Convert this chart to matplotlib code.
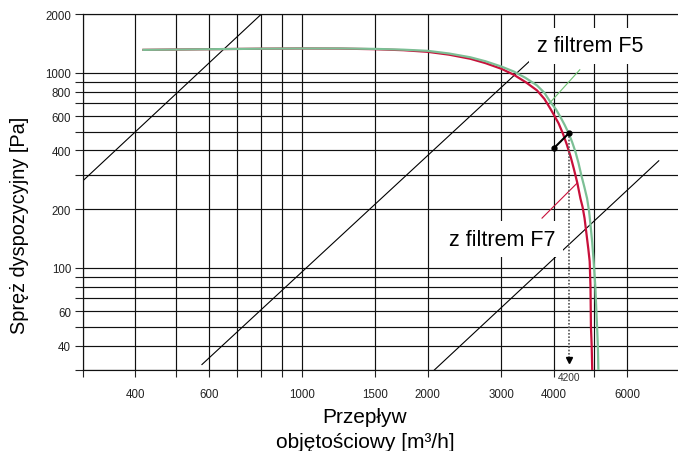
import numpy as np
import matplotlib
matplotlib.use('Agg')
import matplotlib.pyplot as plt
from matplotlib.ticker import FixedLocator, FixedFormatter, NullLocator

plt.rcParams['font.family'] = ['Liberation Sans', 'DejaVu Sans']

# fan curves
f5_q = [419, 600, 800, 1000, 1237, 1500, 1750, 2000, 2250, 2530, 2750, 3000, 3211,
        3430, 3650, 3800, 3927, 4050, 4150, 4250, 4345, 4430, 4508, 4585, 4656,
        4735, 4807, 4860, 4900, 4945, 4984, 5030, 5078, 5100, 5115]
f5_p = [1310, 1320, 1328, 1332, 1332, 1325, 1313, 1295, 1255, 1200, 1145, 1076, 1015,
        940, 861, 790, 709, 650, 594, 540, 489, 440, 394, 345, 299,
        260, 227, 195, 165, 135, 108, 80, 50, 40, 30]

f7_q = [419, 600, 800, 1000, 1237, 1500, 1750, 2000, 2250, 2530, 2750, 3000, 3211,
        3430, 3650, 3800, 3927, 4020, 4111, 4210, 4304, 4390, 4466, 4555, 4634,
        4690, 4740, 4790, 4840, 4876, 4898, 4910, 4930, 4945]
f7_p = [1310, 1320, 1328, 1332, 1330, 1320, 1305, 1280, 1238, 1179, 1120, 1048, 977,
        895, 812, 735, 655, 600, 550, 487, 426, 372, 324, 273, 227,
        205, 180, 150, 125, 108, 80, 50, 40, 30]

# system lines (p ~ q^2), end points
sys1_q = [300, 802]
sys1_p = [279, 2000]
sys2_q = [578, 3616]
sys2_p = [32, 1221]
sys3_q = [2075, 7130]
sys3_p = [30, 354]

# working point segment
op_q = [4015, 4345]
op_p = [413, 489]
op_label = '4200'

# label pointers
f5_ptr_q = [3913, 4618]
f5_ptr_p = [700, 1036]
f7_ptr_q = [3752, 4550]
f7_ptr_p = [180, 272]

x_ticks = [300, 400, 500, 600, 700, 800, 900, 1000, 1500, 2000, 3000, 4000, 5000, 6000]
x_labels = ['', '400', '', '600', '', '', '', '1000', '1500', '2000', '3000', '4000', '', '6000']
y_ticks = [30, 40, 50, 60, 70, 80, 90, 100, 200, 300, 400, 500, 600, 700, 800, 900, 1000, 2000]
y_labels = ['', '40', '', '60', '', '', '', '100', '200', '', '400', '', '600', '', '800', '', '1000', '2000']

green = '#7cbf95'
red = '#c8103a'

fig = plt.figure(figsize=(6.78, 4.52), dpi=100)
ax = fig.add_axes([82.7 / 678, 1 - 371 / 452, 597 / 678, 356 / 452])
ax.set_xscale('log')
ax.set_yscale('log')
ax.set_xlim(300, 8000)
ax.set_ylim(30, 2000)

ax.xaxis.set_major_locator(FixedLocator(x_ticks))
ax.xaxis.set_major_formatter(FixedFormatter(x_labels))
ax.xaxis.set_minor_locator(NullLocator())
ax.yaxis.set_major_locator(FixedLocator(y_ticks))
ax.yaxis.set_major_formatter(FixedFormatter(y_labels))
ax.yaxis.set_minor_locator(NullLocator())
ax.tick_params(axis='x', direction='out', length=5.3, width=0.8, pad=8, labelsize=8.3, colors='#222')
ax.tick_params(axis='y', direction='out', length=6, width=0.8, pad=2.3, labelsize=8.3, colors='#222')
ax.grid(True, color='#111', lw=0.85)
ax.set_axisbelow(True)
for s in ['left', 'top', 'bottom']:
    ax.spines[s].set_color('#111')
    ax.spines[s].set_linewidth(0.85)
ax.spines['right'].set_visible(False)

ax.plot(sys1_q, sys1_p, color='k', lw=0.8, zorder=2)
ax.plot(sys2_q, sys2_p, color='k', lw=0.8, zorder=2)
ax.plot(sys3_q, sys3_p, color='k', lw=0.8, zorder=2)

ax.plot(f5_ptr_q, f5_ptr_p, color='#6cc070', lw=0.8, zorder=2)
ax.plot(f7_ptr_q, f7_ptr_p, color=red, lw=0.8, zorder=2)

ax.plot(f7_q, f7_p, color=red, lw=1.6, zorder=3, solid_joinstyle='round')
ax.plot(f5_q, f5_p, color=green, lw=1.6, zorder=4, solid_joinstyle='round')

# working point and dotted drop line
ax.plot([op_q[1], op_q[1]], [op_p[1], 34], color='#555', lw=1.2, ls=(0, (1, 1)), zorder=5)
ax.plot([op_q[1]], [33.6], marker='v', ms=5, color='k', zorder=5, clip_on=False)
ax.plot(op_q, op_p, color='k', lw=1.5, marker='o', ms=3.5, zorder=6)
ax.text(op_q[1], -0.005, op_label, transform=ax.get_xaxis_transform(), ha='center', va='top',
        fontsize=7.3, color='#333')

box = dict(boxstyle='square,pad=0.35', facecolor='white', edgecolor='none')
ax.text(4887, 1290, 'z filtrem F5', fontsize=15.5, ha='center', va='baseline', bbox=box, zorder=7)
ax.text(3016, 131.5, 'z filtrem F7', fontsize=15.5, ha='center', va='baseline', bbox=box, zorder=7)

fig.text(20 / 678, 1 - 225 / 452, 'Spręż dyspozycyjny [Pa]', rotation=90, fontsize=14.3,
         ha='center', va='center')
fig.text(365 / 678, 1 - 430 / 452, 'Przepływ\nobjętościowy [m³/h]', fontsize=15,
         ha='center', va='center', multialignment='center', linespacing=1.4)

fig.savefig('out.png', dpi=100)
